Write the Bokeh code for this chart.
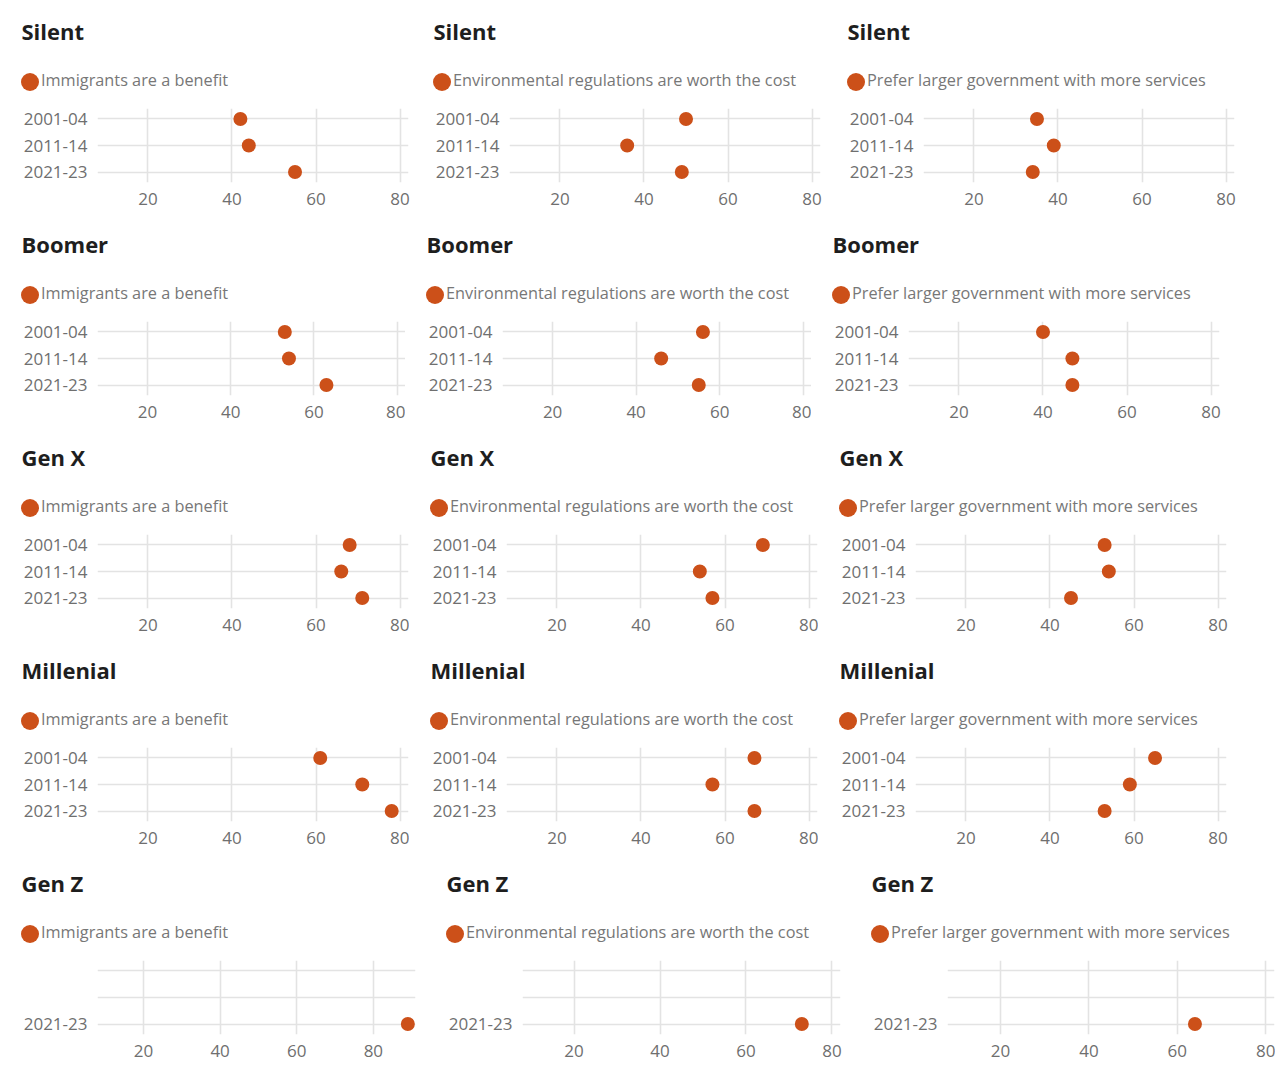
from bokeh.plotting import figure
from bokeh.layouts import column, row
from bokeh.models import Range1d, FactorRange, FixedTicker, ColumnDataSource, CustomJSTickFormatter
from bokeh.core.properties import value
from bokeh.embed import file_html
from bokeh.resources import INLINE

# ---------------- data ----------------
generations = ["Silent", "Boomer", "Gen X", "Millenial", "Gen Z"]
periods = ["2001-04", "2011-14", "2021-23"]
measures = [
    "Immigrants are a benefit",
    "Environmental regulations are worth the cost",
    "Prefer larger government with more services",
]
# values per generation, in period order (None = no data)
immigrants_benefit = [[42, 44, 55], [53, 54, 63], [68, 66, 71], [61, 71, 78], [None, None, 89]]
environment_worth = [[50, 36, 49], [56, 46, 55], [69, 54, 57], [67, 57, 67], [None, None, 73]]
larger_government = [[35, 39, 34], [40, 47, 47], [53, 54, 45], [65, 59, 53], [None, None, 64]]
x_ticks = [20, 40, 60, 80]

series = [immigrants_benefit, environment_worth, larger_government]

# ---------------- style / layout ----------------
FONT = "Open Sans"
DOT = "#CC5019"
TITLE_C = "#1e1e1e"
TEXT_C = "#777777"
TICK_C = "#6f6f6f"
GRID_C = "#e3e3e3"

PH = 213
FL, FT, FB = 97, 108, 31          # left / top / bottom borders of each plotting frame
BODY_H = PH - FT
# panel widths and frame widths per row (the source panels are not perfectly aligned)
ROW_WIDTHS = [[412, 414, 413], [405, 406, 413], [409, 409, 413], [409, 409, 413], [425, 425, 425]]
FRAME_WIDTHS = [[311, 311, 311], [311, 311, 311], [311, 311, 311], [311, 311, 311], [318, 318, 327]]


def header(gen, measure, w):
    h = figure(width=w, height=FT, x_range=Range1d(0, w), y_range=Range1d(FT, 0),
               x_axis_location=None, y_axis_location=None,
               output_backend="svg", toolbar_location=None, min_border=0)
    h.grid.visible = False
    h.outline_line_color = None
    h.text(x=[21], y=[30.5], text=[gen], text_font=value(FONT), text_font_style="bold",
           text_font_size="22px", text_color=TITLE_C, text_baseline="middle", text_align="left")
    h.scatter(x=[29.5], y=[81.5], size=18, color=DOT, line_color=None)
    h.text(x=[40.5], y=[79.5], text=[measure], text_font=value(FONT), text_font_size="16.3px",
           text_color=TEXT_C, text_baseline="middle", text_align="left")
    return h


def body(vals, w, fw):
    xs = [v for v in vals if v is not None]
    ys = [p for p, v in zip(periods, vals) if v is not None]
    x_end = max(82, max(xs) + 2)
    p = figure(width=w, height=BODY_H, x_range=Range1d(8, x_end),
               y_range=FactorRange(factors=periods[::-1], range_padding=-0.07),
               output_backend="svg", toolbar_location=None,
               min_border_left=FL, min_border_right=w - FL - fw,
               min_border_top=0, min_border_bottom=FB)
    p.outline_line_color = None
    p.xaxis.ticker = FixedTicker(ticks=x_ticks)
    for ax in (p.xaxis[0], p.yaxis[0]):
        ax.axis_line_color = None
        ax.major_tick_line_color = None
        ax.minor_tick_line_color = None
        ax.major_tick_out = 0
        ax.major_tick_in = 0
        ax.minor_tick_out = 0
        ax.major_label_text_font = FONT
        ax.major_label_text_font_size = "17px"
        ax.major_label_text_color = TICK_C
    p.xaxis.major_label_standoff = 10
    p.yaxis.major_label_standoff = 10
    p.yaxis.formatter = CustomJSTickFormatter(args=dict(shown=ys),
                                              code="return shown.includes(tick) ? tick : ''")
    p.xgrid.grid_line_color = GRID_C
    p.ygrid.grid_line_color = GRID_C
    p.xgrid.grid_line_width = 1.6
    p.ygrid.grid_line_width = 1.6

    src = ColumnDataSource(data=dict(x=xs, y=ys))
    p.scatter("x", "y", source=src, size=14, color=DOT, line_color=None)
    return p


blocks = []
for gi, gen in enumerate(generations):
    widths = ROW_WIDTHS[gi]
    fws = FRAME_WIDTHS[gi]
    blocks.append(row(*[header(gen, m, widths[mi]) for mi, m in enumerate(measures)], spacing=0))
    blocks.append(row(*[body(series[mi][gi], widths[mi], fws[mi]) for mi in range(len(measures))], spacing=0))
layout = column(*blocks, spacing=0)

open("out.html", "w").write(file_html(layout, INLINE))
